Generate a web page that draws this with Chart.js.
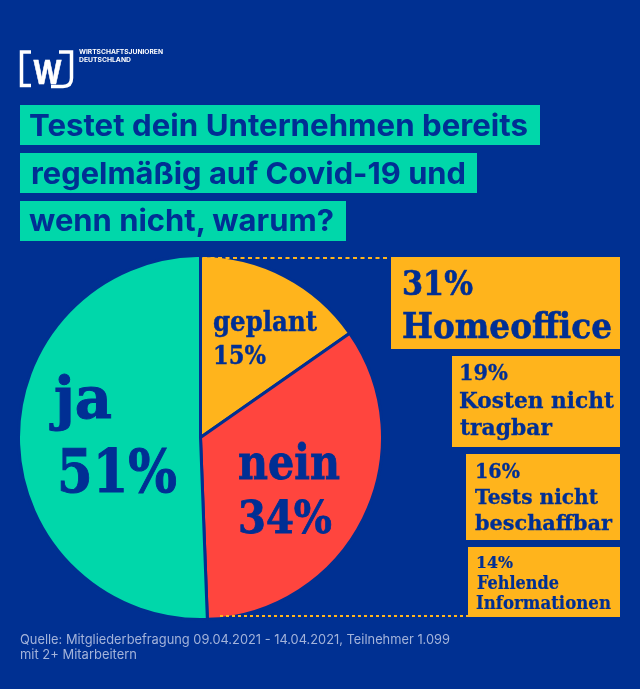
<!DOCTYPE html>
<html lang="de">
<head>
<meta charset="utf-8">
<title>Covid-19 Tests</title>
<script src="https://cdn.jsdelivr.net/npm/chart.js@4"></script>
<style>
  html, body { margin: 0; padding: 0; }
  body { width: 640px; height: 689px; background: #003092; position: relative; overflow: hidden; }
  #pieWrap { position: absolute; left: 17px; top: 254px; width: 367px; height: 367px; }
  .box { position: absolute; }
  .teal { background: #00d7aa; }
  .amber { background: #ffb41c; }
  #over { position: absolute; left: 0; top: 0; }
</style>
</head>
<body>
<div class="box teal" style="left:20px;top:105px;width:520px;height:40px"></div>
<div class="box teal" style="left:20px;top:153px;width:457px;height:40px"></div>
<div class="box teal" style="left:20px;top:201px;width:326px;height:40px"></div>
<div class="box amber" style="left:391px;top:257px;width:229px;height:92px"></div>
<div class="box amber" style="left:452px;top:356px;width:168px;height:91px"></div>
<div class="box amber" style="left:466px;top:454px;width:154px;height:86px"></div>
<div class="box amber" style="left:468px;top:547px;width:152px;height:70px"></div>

<div id="pieWrap"><canvas id="cPie"></canvas></div>

<svg id="over" width="640" height="689" xmlns="http://www.w3.org/2000/svg">
  <path d="M31 52H21.500V85.500H31" fill="none" stroke="#fff" stroke-width="3.500"/>
  <path d="M59 52H71.500V78Q71.500 86.500 63 86.500H51" fill="none" stroke="#fff" stroke-width="3.500"/>
  <line x1="203" y1="258" x2="390" y2="258" stroke="#ffb41c" stroke-width="2" stroke-dasharray="4 3.500"/>
  <line x1="220" y1="616" x2="468" y2="616" stroke="#ffb41c" stroke-width="2" stroke-dasharray="3 3"/>
</svg>

<script>
const sliceNames = ['geplant', 'nein', 'ja'];
const sliceValues = [15.3, 34.1, 50.6];
const sliceColors = ['#ffb41c', '#ff453e', '#00d7aa'];

const reasonValues = [31, 19, 16, 14];
const reasonLines = [['Homeoffice'], ['Kosten nicht', 'tragbar'], ['Tests nicht', 'beschaffbar'], ['Fehlende', 'Informationen']];

const titleLines = ['Testet dein Unternehmen bereits', 'regelmäßig auf Covid-19 und', 'wenn nicht, warum?'];
const orgLines = ['WIRTSCHAFTSJUNIOREN', 'DEUTSCHLAND'];
const sourceLines = ['Quelle: Mitgliederbefragung 09.04.2021 - 14.04.2021, Teilnehmer 1.099', 'mit 2+ Mitarbeitern'];

new Chart(document.getElementById('cPie').getContext('2d'), {
  type: 'pie',
  data: {
    labels: sliceNames,
    datasets: [{
      data: sliceValues,
      backgroundColor: sliceColors,
      borderColor: '#003092',
      borderWidth: 3
    }]
  },
  options: {
    responsive: true,
    animation: false,
    layout: { padding: 0 },
    plugins: { legend: { display: false }, tooltip: { enabled: false } }
  }
});

const over = document.getElementById('over');
const SERIF = '"DejaVu Serif", serif', SANS = 'Inter, sans-serif';
const INK = '#002f94';

// x, baseline, font size, width of the run on the page, extra stroke
function put(txt, x, y, size, w, fam, weight, color, bold) {
  const t = document.createElementNS('http://www.w3.org/2000/svg', 'text');
  t.textContent = txt;
  t.setAttribute('x', x);
  t.setAttribute('y', y);
  t.setAttribute('font-size', size);
  t.setAttribute('font-family', fam);
  t.setAttribute('font-weight', weight);
  t.setAttribute('fill', color);
  t.setAttribute('textLength', w);
  t.setAttribute('lengthAdjust', 'spacingAndGlyphs');
  if (bold) {
    t.setAttribute('stroke', color);
    t.setAttribute('stroke-width', bold);
  }
  over.appendChild(t);
}

put(titleLines[0], 29, 136, 30, 499, SANS, 700, INK);
put(titleLines[1], 31, 184, 30, 435, SANS, 700, INK);
put(titleLines[2], 29, 231, 30, 305, SANS, 700, INK);

put('W', 33, 84, 33, 29, SANS, 700, '#fff', 0.6);
put(orgLines[0], 79, 54, 6.3, 84, SANS, 700, '#fff');
put(orgLines[1], 79, 62, 6.3, 52, SANS, 700, '#fff');

put(sourceLines[0], 20, 644, 13, 430, SANS, 400, '#a3b3da');
put(sourceLines[1], 20, 659, 13, 117, SANS, 400, '#a3b3da');

// slice captions
const pct = v => Math.round(v) + '%';
put(sliceNames[0], 213, 331, 27, 104, SERIF, 700, INK, 0.4);
put(pct(sliceValues[0]), 213, 364, 26, 53, SERIF, 700, INK, 0.4);
put(sliceNames[1], 238, 479, 48, 102, SERIF, 700, INK, 0.8);
put(pct(sliceValues[1]), 238, 533, 45, 94, SERIF, 700, INK, 0.8);
put(sliceNames[2], 54, 418, 58, 58, SERIF, 700, INK, 1);
put(pct(sliceValues[2]), 57, 492, 60, 120, SERIF, 700, INK, 1);

// reason boxes
put(reasonValues[0] + '%', 402, 295, 34, 71, SERIF, 700, INK, 0.6);
put(reasonLines[0][0], 402, 338, 36, 210, SERIF, 700, INK, 0.6);
put(reasonValues[1] + '%', 459, 380, 21.5, 49, SERIF, 700, INK, 0.3);
put(reasonLines[1][0], 459, 408, 22, 155, SERIF, 700, INK, 0.3);
put(reasonLines[1][1], 460, 435, 22, 92, SERIF, 700, INK, 0.3);
put(reasonValues[2] + '%', 475, 478, 21, 45, SERIF, 700, INK, 0.3);
put(reasonLines[2][0], 475, 504, 21, 123, SERIF, 700, INK, 0.3);
put(reasonLines[2][1], 475, 530, 21, 137, SERIF, 700, INK, 0.3);
put(reasonValues[3] + '%', 476, 568, 17, 37, SERIF, 700, INK, 0.2);
put(reasonLines[3][0], 477, 589, 18, 82, SERIF, 700, INK, 0.2);
put(reasonLines[3][1], 476, 609, 18, 135, SERIF, 700, INK, 0.2);
</script>
</body>
</html>
